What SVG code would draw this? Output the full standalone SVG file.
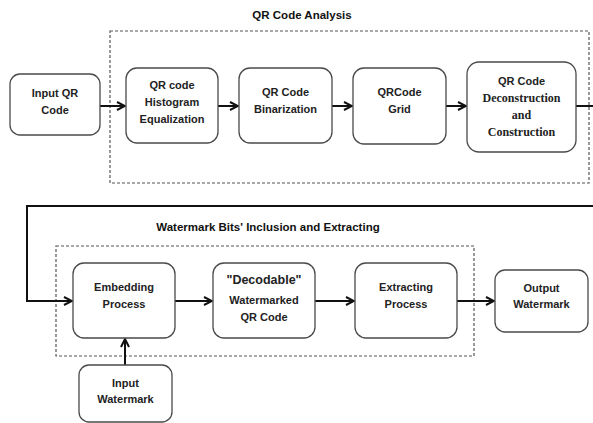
<svg xmlns="http://www.w3.org/2000/svg" width="593" height="423" viewBox="0 0 593 423">
<style>
.box{fill:#fff;stroke:#4a4a4a;stroke-width:1.3}
.grp{fill:none;stroke:#555;stroke-width:1.2;stroke-dasharray:3 2}
.t{font-family:"Liberation Sans",Arial,sans-serif;font-weight:bold;font-size:11px;fill:#222;text-anchor:middle}
.s{font-family:"Liberation Serif","Times New Roman",serif;font-weight:bold;font-size:12px;fill:#222;text-anchor:middle}
.ttl{font-family:"Liberation Sans",Arial,sans-serif;font-weight:bold;font-size:11.5px;fill:#111;text-anchor:middle}
.c{fill:none;stroke:#111;stroke-width:2}
</style>
<defs>
<marker id="ah" viewBox="0 0 10 10" refX="9" refY="5" markerWidth="5" markerHeight="5" orient="auto" markerUnits="strokeWidth">
<path d="M1,1 L9,5 L1,9" fill="none" stroke="#111" stroke-width="2"/>
</marker>
</defs>
<rect width="593" height="423" fill="#fff"/>
<g id="group-analysis">
<rect class="grp" x="110" y="31" width="479" height="152"/>
<text class="ttl" x="302" y="19">QR Code Analysis</text>
</g>
<g id="group-watermark">
<rect class="grp" x="56" y="246" width="418" height="110"/>
<text class="ttl" x="268" y="231">Watermark Bits' Inclusion and Extracting</text>
</g>
<g id="connectors">
<line class="c" x1="100" y1="106" x2="125" y2="106" marker-end="url(#ah)"/>
<line class="c" x1="218" y1="106" x2="238" y2="106" marker-end="url(#ah)"/>
<line class="c" x1="332" y1="106" x2="352" y2="106" marker-end="url(#ah)"/>
<line class="c" x1="446" y1="106" x2="466" y2="106" marker-end="url(#ah)"/>
<line class="c" x1="576" y1="106" x2="593" y2="106"/>
<polyline class="c" points="593,206 27,206 27,301 72,301" marker-end="url(#ah)"/>
<line class="c" x1="175" y1="301" x2="212" y2="301" marker-end="url(#ah)"/>
<line class="c" x1="315" y1="301" x2="354" y2="301" marker-end="url(#ah)"/>
<line class="c" x1="457" y1="301" x2="494" y2="301" marker-end="url(#ah)"/>
<line class="c" x1="125" y1="365" x2="125" y2="339" marker-end="url(#ah)"/>
</g>
<g id="input-qr">
<rect class="box" x="10" y="74" width="90" height="61" rx="10"/>
<text class="t" x="55" y="97">Input QR</text>
<text class="t" x="55" y="114">Code</text>
</g>
<g id="histogram">
<rect class="box" x="126" y="68" width="92" height="75" rx="11"/>
<text class="t" x="172" y="89">QR code</text>
<text class="t" x="172" y="106">Histogram</text>
<text class="t" x="172" y="123">Equalization</text>
</g>
<g id="binarization">
<rect class="box" x="239" y="68" width="93" height="75" rx="11"/>
<text class="t" x="285.5" y="96">QR Code</text>
<text class="t" x="285.5" y="113">Binarization</text>
</g>
<g id="grid">
<rect class="box" x="353" y="68" width="93" height="76" rx="11"/>
<text class="t" x="399.5" y="96">QRCode</text>
<text class="t" x="399.5" y="113">Grid</text>
</g>
<g id="deconstruction">
<rect class="box" x="467" y="62" width="109" height="90" rx="12"/>
<text class="t" x="521.5" y="85">QR Code</text>
<text class="s" x="521.5" y="102">Deconstruction</text>
<text class="s" x="521.5" y="119">and</text>
<text class="s" x="521.5" y="136">Construction</text>
</g>
<g id="embedding">
<rect class="box" x="73" y="263" width="102" height="75" rx="11"/>
<text class="t" x="124" y="291">Embedding</text>
<text class="t" x="124" y="308">Process</text>
</g>
<g id="decodable">
<rect class="box" x="213" y="263" width="102" height="75" rx="11"/>
<text class="t" x="264" y="284" style="font-size:12.5px">"Decodable"</text>
<text class="t" x="264" y="304">Watermarked</text>
<text class="t" x="264" y="321">QR Code</text>
</g>
<g id="extracting">
<rect class="box" x="355" y="263" width="102" height="75" rx="11"/>
<text class="t" x="406" y="291">Extracting</text>
<text class="t" x="406" y="308">Process</text>
</g>
<g id="output-watermark">
<rect class="box" x="495" y="270" width="93" height="62" rx="10"/>
<text class="t" x="541.5" y="292">Output</text>
<text class="t" x="541.5" y="308">Watermark</text>
</g>
<g id="input-watermark">
<rect class="box" x="79" y="365" width="93" height="57" rx="10"/>
<text class="t" x="125.5" y="387">Input</text>
<text class="t" x="125.5" y="403">Watermark</text>
</g>
</svg>
